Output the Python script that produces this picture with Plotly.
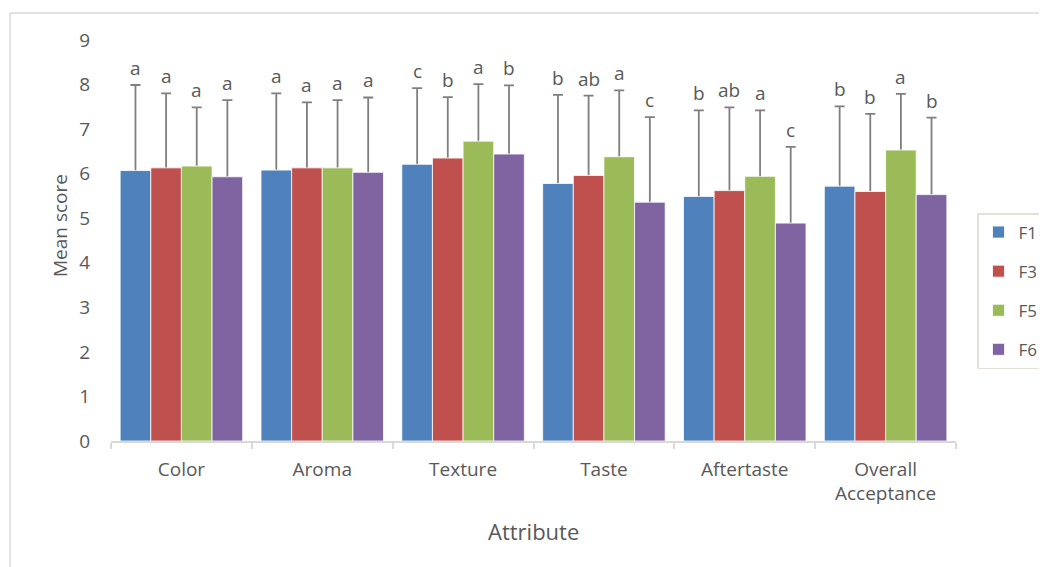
import plotly.graph_objects as go

attributes = ["Color", "Aroma", "Texture", "Taste", "Aftertaste", "Overall<br>Acceptance"]
series_names = ["F1", "F3", "F5", "F6"]
colors = ["#4f81bd", "#c0504d", "#9bbb59", "#8064a2"]

f1_mean = [6.07, 6.08, 6.21, 5.78, 5.49, 5.72]
f3_mean = [6.13, 6.13, 6.35, 5.96, 5.62, 5.60]
f5_mean = [6.17, 6.13, 6.73, 6.38, 5.94, 6.53]
f6_mean = [5.93, 6.03, 6.44, 5.36, 4.89, 5.53]

f1_sd = [1.92, 1.72, 1.71, 1.99, 1.93, 1.79]
f3_sd = [1.67, 1.47, 1.37, 1.79, 1.87, 1.74]
f5_sd = [1.32, 1.52, 1.28, 1.49, 1.48, 1.26]
f6_sd = [1.72, 1.68, 1.54, 1.91, 1.71, 1.73]

f1_letters = ["a", "a", "c", "b", "b", "b"]
f3_letters = ["a", "a", "b", "ab", "ab", "b"]
f5_letters = ["a", "a", "a", "a", "a", "a"]
f6_letters = ["a", "a", "b", "c", "c", "b"]

y_ticks = [0, 1, 2, 3, 4, 5, 6, 7, 8, 9]

means = [f1_mean, f3_mean, f5_mean, f6_mean]
sds = [f1_sd, f3_sd, f5_sd, f6_sd]
letters = [f1_letters, f3_letters, f5_letters, f6_letters]

FONT = "Open Sans"
GRAY = "#595959"

# the page body adds an 8 px margin; the figure is sized to fit the window
OFF = 8
W, H = 1047 - OFF, 567 - OFF
L, T = 111 - OFF, 40 - OFF
plot_w, plot_h = 845, 401
R = W - L - plot_w
B = H - T - plot_h
bargap = 0.13


def px_x(sx):
    """screen pixel x -> paper x"""
    return (sx - OFF - L) / plot_w


def px_y(sy):
    """screen pixel y -> paper y"""
    return (T + plot_h - (sy - OFF)) / plot_h


fig = go.Figure()
# error-bar carriers (drawn first, so the visible bars hide the lower part)
for i, name in enumerate(series_names):
    fig.add_trace(go.Bar(
        name=name, x=attributes, y=means[i], offsetgroup=name,
        marker=dict(color="rgba(0,0,0,0)", line=dict(width=0)),
        error_y=dict(type="data", array=sds[i], arrayminus=[m * 0.5 for m in means[i]],
                     symmetric=False, color="#7f7f7f", thickness=1.8, width=5),
        showlegend=False, hoverinfo="skip", legendgroup=name,
    ))
# visible bars
for i, name in enumerate(series_names):
    fig.add_trace(go.Bar(
        name=name, x=attributes, y=means[i], offsetgroup=name,
        marker=dict(color=colors[i], line=dict(width=0.8, color="white")),
        legendgroup=name,
    ))

# significance letters above the error bars
cat_w = plot_w / len(attributes)
bar_w = cat_w * (1 - bargap) / len(series_names)
for i in range(len(series_names)):
    for j, a in enumerate(attributes):
        fig.add_annotation(
            x=a, y=means[i][j] + sds[i][j], xref="x", yref="y",
            text=letters[i][j], showarrow=False,
            xshift=(i - 1.5) * bar_w, yshift=17,
            font=dict(family=FONT, size=19, color=GRAY),
        )

# axis titles
fig.add_annotation(text="Mean score", xref="paper", yref="paper",
                   x=px_x(60), y=px_y(226), xanchor="center", yanchor="middle",
                   textangle=-90, showarrow=False,
                   font=dict(family=FONT, size=19, color=GRAY))
fig.add_annotation(text="Attribute", xref="paper", yref="paper",
                   x=0.5, y=px_y(531), xanchor="center", yanchor="middle",
                   showarrow=False, font=dict(family=FONT, size=22, color=GRAY))

fig.update_layout(
    width=W, height=H,
    margin=dict(l=L, r=R, t=T, b=B),
    paper_bgcolor="white", plot_bgcolor="white",
    barmode="group", bargap=bargap, bargroupgap=0,
    font=dict(family=FONT, color=GRAY),
    showlegend=True,
    legend=dict(
        xref="container", yref="container",
        x=(977 - OFF) / W, xanchor="left", y=1 - (213 - OFF) / H, yanchor="top",
        bordercolor="#e4e1d8", borderwidth=1.5,
        font=dict(family=FONT, size=17, color=GRAY),
        tracegroupgap=14, itemwidth=30,
    ),
    xaxis=dict(
        type="category", automargin=False,
        showline=True, linecolor="#d9d9d9", linewidth=1.5,
        ticks="outside", tickson="boundaries", ticklen=6, tickcolor="#d9d9d9", tickwidth=1.5,
        tickfont=dict(family=FONT, size=19, color=GRAY), ticklabelstandoff=10,
        showgrid=False, zeroline=False,
    ),
    yaxis=dict(
        range=[0, 9], tickvals=y_ticks, showgrid=False, zeroline=False, automargin=False,
        showline=False, ticks="", ticklabelstandoff=20,
        tickfont=dict(family=FONT, size=19, color=GRAY),
    ),
)

# outer chart border (top and left edges visible)
fig.add_shape(type="line", xref="paper", yref="paper",
              x0=px_x(10), x1=px_x(1100), y0=px_y(13), y1=px_y(13),
              line=dict(color="#d9d9d9", width=1.5))
fig.add_shape(type="line", xref="paper", yref="paper",
              x0=px_x(10), x1=px_x(10), y0=px_y(13), y1=px_y(620),
              line=dict(color="#d9d9d9", width=1.5))

fig.write_html("out.html")
